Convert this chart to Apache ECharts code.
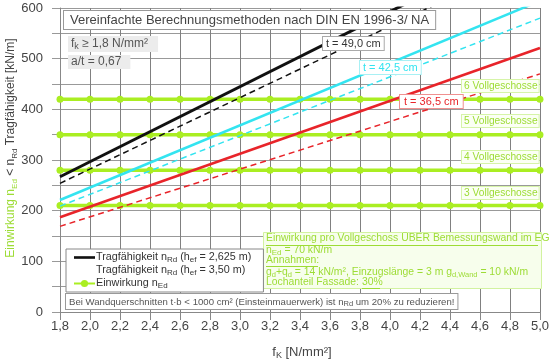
<!DOCTYPE html>
<html><head><meta charset="utf-8">
<script src="https://cdn.jsdelivr.net/npm/echarts@6/dist/echarts.min.js"></script>
<style>html,body{margin:0;padding:0;background:#fff}#c{width:552px;height:364px}</style>
</head><body><div id="c"></div>
<script>
// x values (f_k in N/mm²)
const fkEnds = [1.8, 5.0];
const fkSteps = [1.8, 2.0, 2.2, 2.4, 2.6, 2.8, 3.0, 3.2, 3.4, 3.6, 3.8, 4.0, 4.2, 4.4, 4.6, 4.8, 5.0];
// capacity n_Rd [kN/m] at fk = 1.8 and 5.0
const t490_h2625 = [267, 741];
const t490_h350  = [254, 705];
const t425_h2625 = [221, 614];
const t425_h350  = [209, 580];
const t365_h2625 = [187, 521];
const t365_h350  = [169, 470];
// action n_Ed [kN/m] for 3..6 storeys
const nEd3 = [210,210,210,210,210,210,210,210,210,210,210,210,210,210,210,210,210];
const nEd4 = [280,280,280,280,280,280,280,280,280,280,280,280,280,280,280,280,280];
const nEd5 = [350,350,350,350,350,350,350,350,350,350,350,350,350,350,350,350,350];
const nEd6 = [420,420,420,420,420,420,420,420,420,420,420,420,420,420,420,420,420];
const yTicks = [0, 100, 200, 300, 400, 500, 600];

const FONT = 'Liberation Sans, Arial, sans-serif';
const GREEN = '#aaee22';
const GTEXT = '#9ddc35';
const CYAN = '#33e4f0';
const RED = '#e8242a';

const L1 = 'L1', L2 = 'L2', L3 = 'L3';
const pair = (xs, ys) => xs.map((x, i) => [x, ys[i]]);

function capSeries(name, ys, color, width, dashed) {
  return {type: 'line', name: name, data: pair(fkEnds, ys), symbol: 'none', silent: true,
    lineStyle: {color: color, width: width, type: dashed ? [6, 4] : 'solid'}, itemStyle: {color: color}, z: 3};
}
function edSeries(ys) {
  return {type: 'line', name: L3, data: pair(fkSteps, ys), symbol: 'circle', symbolSize: 7, silent: true,
    lineStyle: {color: GREEN, width: 3.5}, itemStyle: {color: GREEN}, z: 2};
}

const sub = {fontSize: 8, verticalAlign: 'bottom', lineHeight: 15, fontFamily: FONT};
const chart = echarts.init(document.getElementById('c'));
chart.setOption({
  animation: false,
  grid: {left: 60, right: 10, top: 8, bottom: 52},
  xAxis: {type: 'value', min: 1.8, max: 5.0, interval: 0.2,
    axisLine: {lineStyle: {color: '#888'}},
    axisTick: {show: true, length: 8, lineStyle: {color: '#888'}},
    splitLine: {show: true, lineStyle: {color: '#808080', width: 1}},
    axisLabel: {fontFamily: FONT, fontSize: 13, color: '#444', margin: 8,
      formatter: v => v.toFixed(1).replace('.', ',')}
  },
  yAxis: {type: 'value', min: 0, max: 600, interval: 50,
    axisLine: {show: true, lineStyle: {color: '#888'}},
    axisTick: {show: true, length: 8, lineStyle: {color: '#999'}},
    splitLine: {show: true, lineStyle: {color: '#999', width: 1}},
    axisLabel: {fontFamily: FONT, fontSize: 13, color: '#444', margin: 17,
      formatter: v => (yTicks.indexOf(Math.round(v)) >= 0 ? String(Math.round(v)) : '')}
  },
  legend: {orient: 'vertical', left: 66, top: 249, itemGap: 0, itemWidth: 21, itemHeight: 9, z: 20,
    backgroundColor: '#fff', borderColor: '#888', borderWidth: 1, borderRadius: 0, padding: [2, 12, 2, 7],
    data: [
      {name: L1, icon: 'path://M0,0 L24,0 L24,3 L0,3 Z'},
      {name: L2, itemStyle: {opacity: 0}, lineStyle: {opacity: 0}},
      {name: L3}
    ],
    formatter: n => n === L1 ? 'Tragfähigkeit n{s|Rd} (h{s|ef} = 2,625 m)'
                 : n === L2 ? 'Tragfähigkeit n{s|Rd} (h{s|ef} = 3,50 m)'
                 : 'Einwirkung n{s|Ed}',
    textStyle: {fontFamily: FONT, fontSize: 10.8, color: '#333', lineHeight: 13, padding: [0, 0, 0, -4],
      rich: {s: {fontSize: 8, color: '#333', verticalAlign: 'bottom', lineHeight: 13}}}
  },
  series: [
    capSeries(L1, t490_h2625, '#111', 3, false),
    capSeries(L2, t490_h350, '#111', 1.5, true),
    capSeries(L1, t425_h2625, CYAN, 2.5, false),
    capSeries(L2, t425_h350, CYAN, 1.5, true),
    capSeries(L1, t365_h2625, RED, 2.5, false),
    capSeries(L2, t365_h350, RED, 1.5, true),
    edSeries(nEd3), edSeries(nEd4), edSeries(nEd5), edSeries(nEd6)
  ],
  graphic: [
    // y axis name
    {type: 'text', x: 11, y: 148, rotation: Math.PI / 2, z: 10,
      style: {text: '{g|Einwirkung n}{gs|Ed}{k| < n}{ks|Rd}{k| Tragfähigkeit [kN/m]}', align: 'center', verticalAlign: 'middle', fill: '#444',
        rich: {g: {fontFamily: FONT, fontSize: 12, fill: GTEXT, lineHeight: 15},
               gs: Object.assign({}, sub, {fill: GTEXT}),
               k: {fontFamily: FONT, fontSize: 12, fill: '#444', lineHeight: 15},
               ks: Object.assign({}, sub, {fill: '#444'})}}},
    // x axis name
    {type: 'text', x: 302, y: 352, z: 10,
      style: {text: 'f{s|K} [N/mm²]', align: 'center', verticalAlign: 'middle', font: '13px ' + FONT, fill: '#444',
        rich: {s: Object.assign({}, sub, {fontSize: 9, fill: '#444', lineHeight: 16})}}},
    // title box
    {type: 'text', x: 64, y: 11, z: 10,
      style: {text: 'Vereinfachte Berechnungsmethoden nach DIN EN 1996-3/ NA', font: '13px ' + FONT, fill: '#444',
        backgroundColor: '#fff', borderColor: '#999', borderWidth: 1, padding: [3, 6, 2, 6]}},
    {type: 'text', x: 68, y: 36, z: 10,
      style: {text: 'f{s|k} ≥ 1,8 N/mm²', font: '12px ' + FONT, fill: '#555', backgroundColor: '#ececec', padding: [1, 10, 1, 3],
        rich: {s: Object.assign({}, sub, {fontSize: 9, fill: '#555', lineHeight: 14})}}},
    {type: 'text', x: 68, y: 55, z: 10,
      style: {text: 'a/t = 0,67', font: '12px ' + FONT, fill: '#555', backgroundColor: '#ececec', padding: [1, 9, 1, 3]}},
    // thickness labels
    {type: 'text', x: 323, y: 37, z: 10,
      style: {text: 't = 49,0 cm', font: '11px ' + FONT, fill: '#333', backgroundColor: '#fff', borderColor: '#aaa', borderWidth: 1, padding: [1, 3, 1, 3]}},
    {type: 'text', x: 360, y: 61, z: 10,
      style: {text: 't = 42,5 cm', font: '11px ' + FONT, fill: CYAN, backgroundColor: '#fff', borderColor: '#a8f0f4', borderWidth: 1, padding: [1, 3, 1, 3]}},
    {type: 'text', x: 400, y: 95, z: 10,
      style: {text: 't = 36,5 cm', font: '11px ' + FONT, fill: RED, backgroundColor: '#fff', borderColor: '#f09090', borderWidth: 1, padding: [1, 4, 1, 4]}},
    // storey labels
    {type: 'text', x: 462, y: 80, z: 10,
      style: {text: '6 Vollgeschosse', font: '10.2px ' + FONT, fill: GTEXT, backgroundColor: '#fbfff4', borderColor: '#d6f4a8', borderWidth: 1, padding: [1, 1, 1, 2]}},
    {type: 'text', x: 462, y: 115, z: 10,
      style: {text: '5 Vollgeschosse', font: '10.2px ' + FONT, fill: GTEXT, backgroundColor: '#fbfff4', borderColor: '#d6f4a8', borderWidth: 1, padding: [1, 1, 1, 2]}},
    {type: 'text', x: 462, y: 151, z: 10,
      style: {text: '4 Vollgeschosse', font: '10.2px ' + FONT, fill: GTEXT, backgroundColor: '#fbfff4', borderColor: '#d6f4a8', borderWidth: 1, padding: [1, 1, 1, 2]}},
    {type: 'text', x: 462, y: 187, z: 10,
      style: {text: '3 Vollgeschosse', font: '10.2px ' + FONT, fill: GTEXT, backgroundColor: '#fbfff4', borderColor: '#d6f4a8', borderWidth: 1, padding: [1, 1, 1, 2]}},
    // green info box
    {type: 'rect', shape: {x: 263.5, y: 232.5, width: 278, height: 56}, z: 9,
      style: {fill: '#f7feec', stroke: '#d2f2a0', lineWidth: 1}},
    {type: 'text', x: 266, y: 233, z: 10,
      style: {text: 'Einwirkung pro Vollgeschoss ÜBER Bemessungswand im EG', font: '10.4px ' + FONT, fill: GTEXT}},
    {type: 'line', shape: {x1: 266, y1: 245.5, x2: 538, y2: 245.5}, z: 10, style: {stroke: GTEXT, lineWidth: 1}},
    {type: 'text', x: 266, y: 244, z: 10,
      style: {text: 'n{s|Ed} = 70 kN/m', font: '10.4px ' + FONT, fill: GTEXT,
        rich: {s: Object.assign({}, sub, {fontSize: 8, fill: GTEXT, lineHeight: 13})}}},
    {type: 'text', x: 266, y: 255, z: 10,
      style: {text: 'Annahmen:', font: '10.4px ' + FONT, fill: GTEXT}},
    {type: 'line', shape: {x1: 266, y1: 266.5, x2: 318, y2: 266.5}, z: 10, style: {stroke: GTEXT, lineWidth: 1}},
    {type: 'text', x: 266, y: 266, z: 10,
      style: {text: 'g{s|d}+q{s|d} = 14 kN/m², Einzugslänge = 3 m g{s|d,Wand} = 10 kN/m', font: '10.4px ' + FONT, fill: GTEXT,
        rich: {s: Object.assign({}, sub, {fontSize: 7.5, fill: GTEXT, lineHeight: 13})}}},
    {type: 'text', x: 266, y: 277, z: 10,
      style: {text: 'Lochanteil Fassade: 30%', font: '10.4px ' + FONT, fill: GTEXT}},
    {type: 'line', shape: {x1: 362, y1: 288.5, x2: 380, y2: 288.5}, z: 10, style: {stroke: GTEXT, lineWidth: 1}},
    // note box
    {type: 'text', x: 66, y: 294, z: 10,
      style: {text: 'Bei Wandquerschnitten t·b < 1000 cm² (Einsteinmauerwerk) ist n{s|Rd} um 20% zu reduzieren!', font: '9.6px ' + FONT, fill: '#555',
        backgroundColor: '#fff', borderColor: '#999', borderWidth: 1, padding: [2, 3, 1, 3],
        rich: {s: Object.assign({}, sub, {fontSize: 7.5, fill: '#555', lineHeight: 12})}}}
  ]
});
</script></body></html>
